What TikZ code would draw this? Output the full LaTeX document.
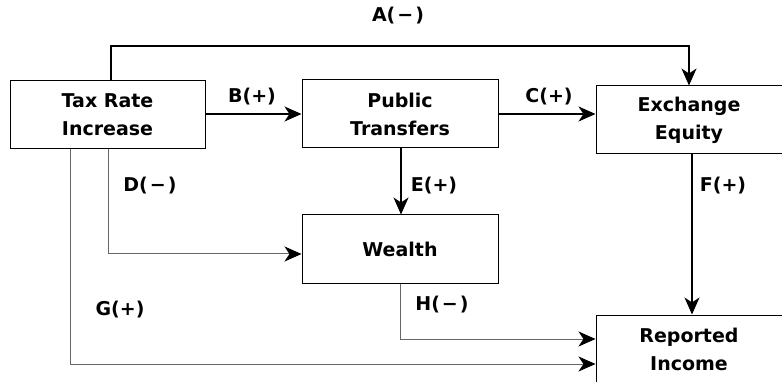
\documentclass[tikz,border=0pt]{standalone}
\usepackage{fontspec}
\setmainfont{DejaVu Sans}
\usetikzlibrary{arrows.meta}
\begin{document}
\begin{tikzpicture}[x=1pt,y=-1pt,
  box/.style={draw=black,line width=1pt,minimum height=68pt,inner sep=0pt,align=center,
    font=\fontsize{19}{28}\selectfont\bfseries},
  lab/.style={font=\fontsize{19}{22}\selectfont\bfseries,inner sep=0pt},
  tip/.style={-{Stealth[length=17pt,width=15pt,inset=5pt]}},
  thick arrow/.style={draw=black,line width=2pt,tip},
  mid arrow/.style={draw=black,line width=1.4pt,tip},
  thin arrow/.style={draw=black!60,line width=1pt,-{Stealth[length=17pt,width=15pt,inset=5pt,color=black,fill=black]}},
  ]
\useasboundingbox (0,0) rectangle (782,382);
\clip (0,0) rectangle (782,382);
\node[box,minimum width=195pt] (tax) at (107.5,115) {Tax Rate\\Increase};
\node[box,minimum width=196pt] (pub) at (400,114) {Public\\Transfers};
\node[box,minimum width=186pt] (exc) at (689,120) {Exchange\\Equity};
\node[box,minimum width=196pt] (wea) at (400,249) {Wealth};
\node[box,minimum width=186pt] (rep) at (689,349) {Reported\\Income};
% A
\coordinate (a1) at (111,46);
\coordinate (a2) at (689,46);
\draw[thick arrow] (tax.north -| a1) -- (a1) -- (a2) -- (exc.north -| a2);
\node[lab] (la) at (398,16) {A(\hspace{2pt}−\hspace{2pt})};
% B
\draw[mid arrow] (tax.east |- 0,114) -- (pub.west |- 0,114);
\node[lab] (lb) at (252,97) {B(+)};
% C
\draw[thick arrow] (pub.east |- 0,114) -- (exc.west |- 0,114);
\node[lab] (lc) at (549,97) {C(+)};
% D
\coordinate (d1) at (108,254);
\draw[thin arrow] (tax.south -| d1) -- (d1) -- (wea.west |- d1);
\node[lab] (ld) at (150,186) {D(\hspace{2pt}−\hspace{2pt})};
% E
\coordinate (e1) at (401,0);
\draw[mid arrow,line width=1.2pt] (pub.south -| e1) -- (wea.north -| e1);
\node[lab] (le) at (434,186) {E(+)};
% F
\coordinate (f1) at (692,0);
\draw[thick arrow] (exc.south -| f1) -- (rep.north -| f1);
\node[lab] (lf) at (723,186) {F(+)};
% G
\coordinate (g1) at (70,364);
\draw[thin arrow] (tax.south -| g1) -- (g1) -- (rep.west |- g1);
\node[lab] (lg) at (120,310) {G(+)};
% H
\coordinate (h1) at (400,339);
\draw[thin arrow] (wea.south -| h1) -- (h1) -- (rep.west |- h1);
\node[lab] (lh) at (442,305) {H(\hspace{2pt}−\hspace{2pt})};
\end{tikzpicture}
\end{document}
